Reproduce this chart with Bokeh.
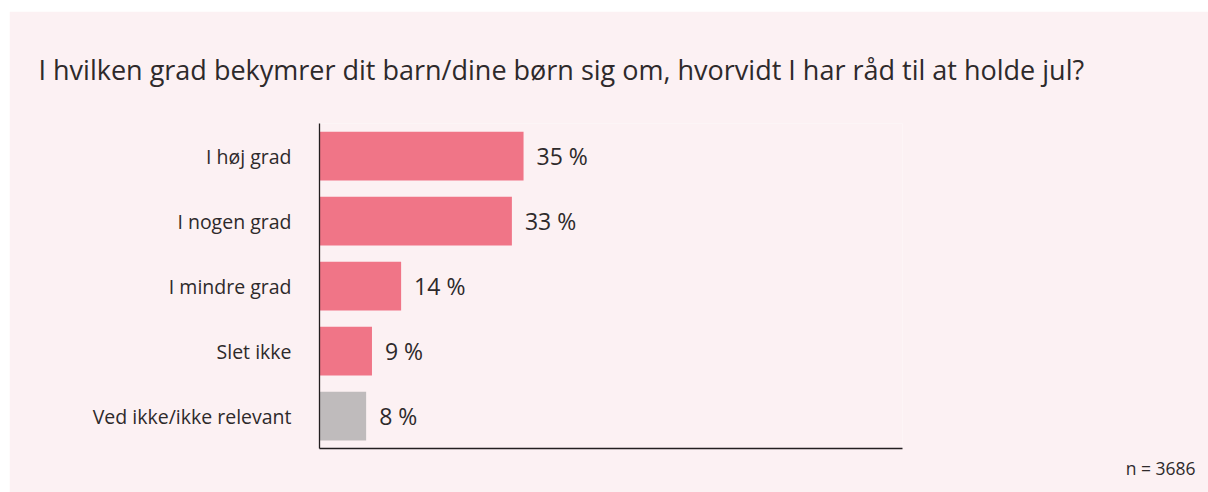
from bokeh.plotting import figure
from bokeh.models import ColumnDataSource, LabelSet, FactorRange, Range1d, FixedTicker, Title
from bokeh.embed import file_html
from bokeh.resources import INLINE
from bokeh.core.properties import value

categories = ["I høj grad", "I nogen grad", "I mindre grad", "Slet ikke", "Ved ikke/ikke relevant"]
values = [35, 33, 14, 9, 8]
value_labels = ["35 %", "33 %", "14 %", "9 %", "8 %"]
bar_colors = ["#F07587", "#F07587", "#F07587", "#F07587", "#BFBBBC"]
title_text = "I hvilken grad bekymrer dit barn/dine børn sig om, hvorvidt I har råd til at holde jul?"
note_text = "n = 3686"

FONT = "Open Sans"
TXT = "#2E2A2B"
BG = "#FCF1F3"

src = ColumnDataSource(dict(cat=categories, val=values, lab=value_labels, col=bar_colors))

p = figure(width=1199, height=481, margin=(11, 0, 0, 9),
           y_range=FactorRange(factors=list(reversed(categories)), range_padding=0),
           x_range=Range1d(0, 100),
           output_backend="svg", toolbar_location=None,
           min_border_left=310, min_border_right=306, min_border_top=112, min_border_bottom=44)
p.background_fill_color = BG
p.border_fill_color = BG
p.outline_line_color = None
p.grid.visible = False

p.hbar(y="cat", right="val", left=0, height=0.75, color="col", line_color=None, source=src)

p.add_layout(LabelSet(x="val", y="cat", text="lab", source=src, x_offset=13,
                      text_baseline="middle", text_font=value(FONT), text_font_size="23px",
                      text_color=TXT))

ya = p.yaxis[0]
ya.major_tick_line_color = None
ya.minor_tick_line_color = None
ya.major_label_standoff = 22
ya.major_label_text_font = FONT
ya.major_label_text_font_size = "19.5px"
ya.major_label_text_color = TXT
ya.axis_line_color = "#231F20"
ya.axis_line_width = 1.3

xa = p.xaxis[0]
xa.ticker = FixedTicker(ticks=[])
xa.major_tick_line_color = None
xa.minor_tick_line_color = None
xa.major_label_text_font_size = "0px"
xa.axis_line_color = "#231F20"
xa.axis_line_width = 1.3

p.title.text = title_text
p.title.align = "left"
p.title.offset = -281
p.title.standoff = 72
p.title.text_font = FONT
p.title.text_font_size = "27px"
p.title.text_font_style = "normal"
p.title.text_color = TXT

note = Title(text=note_text, align="right", offset=-293, standoff=10,
             text_font=FONT, text_font_size="17.5px", text_font_style="normal",
             text_color=TXT)
p.add_layout(note, "below")

open("out.html", "w").write(file_html(p, INLINE))
